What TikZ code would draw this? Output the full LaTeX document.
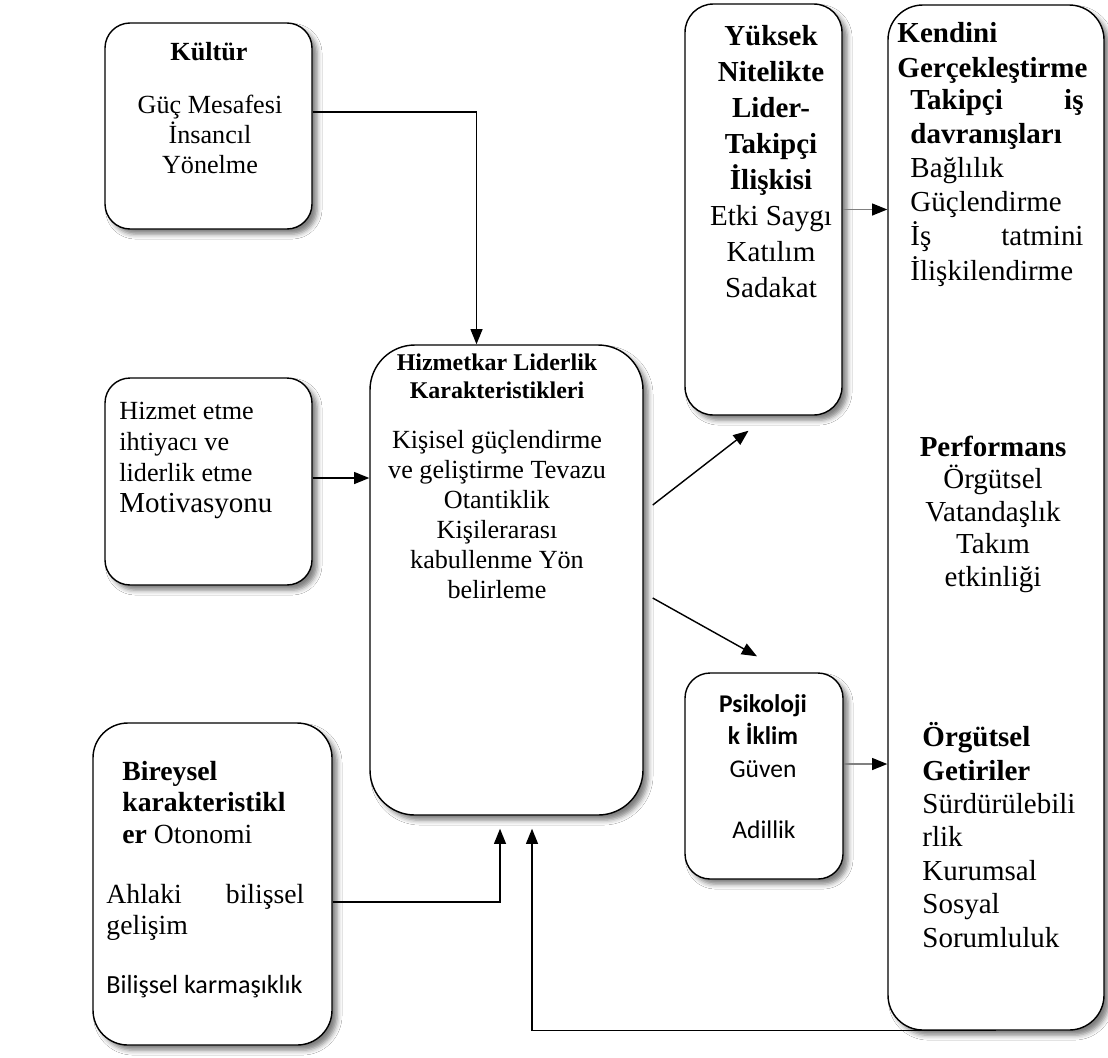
\documentclass[tikz,border=0pt]{standalone}
\usepackage{fontspec}
\setmainfont{Liberation Serif}
\newfontfamily\carlito{Carlito}
\usetikzlibrary{arrows.meta,calc,fit,shadows.blur}

\begin{document}
\begin{tikzpicture}[x=0.4587pt,y=-0.4587pt,
  box/.style={draw=black, line width=0.65pt, fill=white, inner sep=0pt,
    blur shadow={shadow xshift=2.4pt, shadow yshift=-2.4pt,
      shadow blur radius=2.2pt, shadow opacity=50}},
  % text blocks are placed by the baseline of their last line
  txt/.style={inner sep=0pt, anchor=base, align=center},
  ltxt/.style={inner sep=0pt, anchor=base west, align=left},
  arr/.style={line width=0.65pt, -{Triangle[length=7pt,width=5.5pt]}},
  garr/.style={arr, draw=gray, -{Triangle[length=7pt,width=5.5pt,color=black]}}
]
\useasboundingbox (0,0) rectangle (1108,1057);
\fill[white] (0,0) rectangle (1108,1057);

% boxes
\node[box, rounded corners=11.5pt, fit={(105,23)(312,229)}] (kult) {};
\node[box, rounded corners=11.5pt, fit={(105,378)(312,585)}] (hiz) {};
\node[box, rounded corners=20.6pt, fit={(370,345)(643,815)}] (central) {};
\node[box, rounded corners=16pt, fit={(93,723)(332,1045)}] (bir) {};
\node[box, rounded corners=13pt, fit={(685,4)(842,415)}] (yuk) {};
\node[box, rounded corners=16pt, fit={(888,5)(1104,1030)}] (ken) {};
\node[box, rounded corners=11.5pt, fit={(685,673)(843,879)}] (psi) {};

% Kültür
\node[txt, font=\bfseries\fontsize{12}{13.76}\selectfont] (kultT) at (209,60) {Kültür};
\node[txt, font=\fontsize{12}{13.76}\selectfont] (kultB) at (210,173) {Güç Mesafesi\\İnsancıl\\Yönelme};

% motivation
\node[ltxt, font=\fontsize{12}{14.2}\selectfont] (hizT) at (119,512)
  {Hizmet etme\\ihtiyacı ve\\liderlik etme\\{\fontsize{13.3}{14.2}\selectfont Motivasyonu}};

% servant leadership
\node[txt, font=\bfseries\fontsize{11}{12.6}\selectfont] (cenT) at (497,398)
  {Hizmetkar Liderlik\\Karakteristikleri};
\node[txt, font=\fontsize{12}{13.76}\selectfont] (cenB) at (497,598)
  {Kişisel güçlendirme\\ve geliştirme Tevazu\\Otantiklik\\Kişilerarası\\kabullenme Yön\\belirleme};

% leader-follower relation
\node[txt, font=\fontsize{13.3}{16.5}\selectfont] (yukT) at (771,297)
  {\textbf{Yüksek}\\\textbf{Nitelikte}\\\textbf{Lider-}\\\textbf{Takipçi}\\\textbf{İlişkisi}\\Etki Saygı\\Katılım\\Sadakat};

% outcomes
\node[ltxt, font=\bfseries\fontsize{13.3}{15.6}\selectfont] (kenT) at (897,77)
  {Kendini\\Gerçekleştirme};
\node[ltxt, font=\fontsize{13.3}{15.6}\selectfont] (kenA) at (910,280)
  {\textbf{\makebox[79.4pt][s]{Takipçi iş}}\\\textbf{davranışları}\\Bağlılık\\Güçlendirme\\\makebox[79.4pt][s]{İş tatmini}\\İlişkilendirme};
\node[txt, font=\fontsize{13.3}{14.9}\selectfont] (kenP) at (993,586)
  {\textbf{Performans}\\Örgütsel\\Vatandaşlık\\Takım\\etkinliği};
\node[ltxt, font=\fontsize{13.3}{15.3}\selectfont] (kenO) at (922,947)
  {\textbf{Örgütsel}\\\textbf{Getiriler}\\Sürdürülebili\\rlik\\Kurumsal\\Sosyal\\Sorumluluk};

% psychological climate
\node[txt, font=\carlito\fontsize{11.7}{14.9}\selectfont] (psiT) at (763,777)
  {\textbf{Psikoloji}\\\textbf{k İklim}\\Güven};
\node[txt, font=\carlito\fontsize{11.7}{14.9}\selectfont] (psiB) at (764,838) {Adillik};

% individual characteristics
\node[ltxt, font=\fontsize{12.7}{14.45}\selectfont] (birT) at (122,843)
  {\textbf{Bireysel}\\\textbf{karakteristikl}\\\textbf{er} Otonomi};
\node[ltxt, font=\fontsize{12.7}{14.2}\selectfont] (birA) at (106,934)
  {\makebox[90.8pt][s]{Ahlaki bilişsel}\\gelişim};
\node[ltxt, font=\carlito\fontsize{12}{14}\selectfont] (birB) at (106,993) {Bilişsel karmaşıklık};

% connectors
\coordinate (kultOut) at ($(kult.east)+(0,-14)$);
\coordinate (hizOut) at ($(hiz.east)+(0,-3.5)$);
\coordinate (psiOut) at ($(psi.east)+(0,-12)$);
\draw[arr] (kultOut) -| ($(central.north)+(-30,0)$);
\draw[arr] (hizOut) -- (hizOut -| central.west);
\draw[arr] ($(central.east)+(9,-75)$) -- ($(yuk.south)+(-15,15)$);
\draw[arr] ($(central.east)+(9,18)$) -- ($(psi.north)+(-7,-16)$);
\draw[garr] (yuk.east) -- (yuk.east -| ken.west);
\draw[garr] (psiOut) -- (psiOut -| ken.west);
\draw[arr] ($(bir.east)+(0,18)$) -| ($(central.south)+(-6.5,13)$);
\draw[arr] (ken.south) -| ($(central.south)+(25.5,13)$);
\end{tikzpicture}
\end{document}
